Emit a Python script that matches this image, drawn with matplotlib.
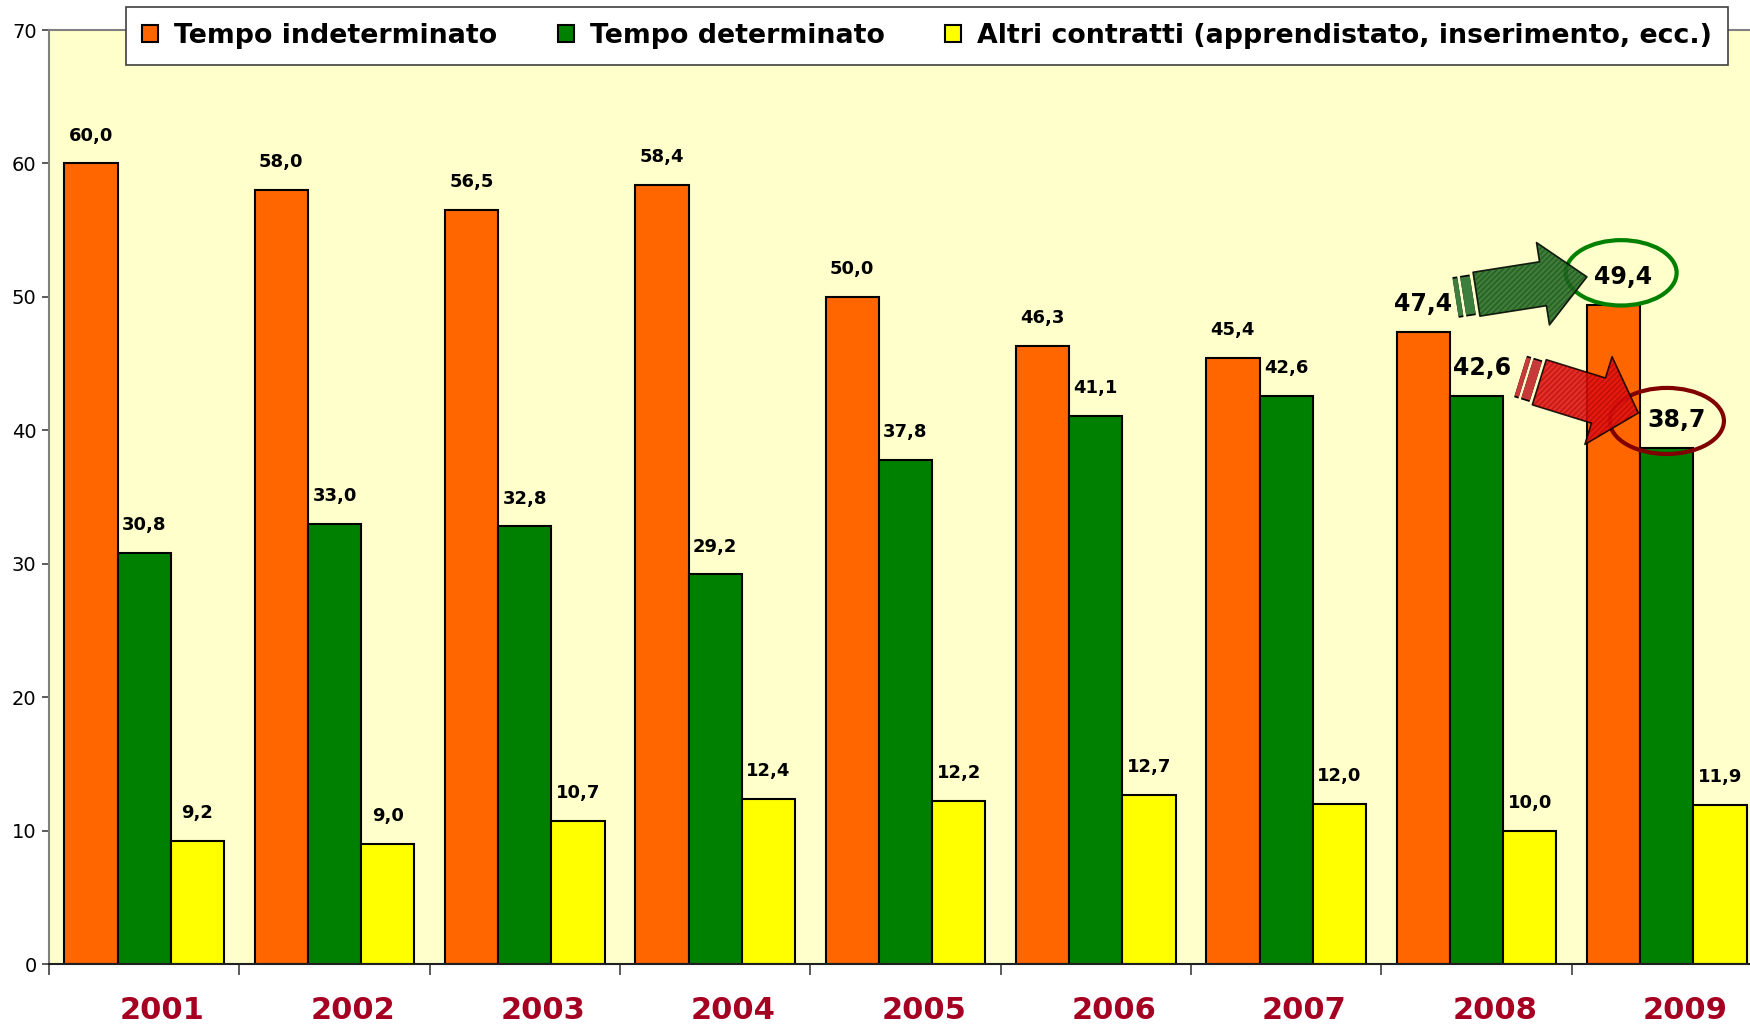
import matplotlib.pyplot as plt
import matplotlib.patheffects as pe
from matplotlib.patches import FancyArrowPatch, Ellipse
import numpy as np

anni = ['2001', '2002', '2003', '2004', '2005', '2006', '2007', '2008', '2009']
indeterminato = [60.0, 58.0, 56.5, 58.4, 50.0, 46.3, 45.4, 47.4, 49.4]
determinato = [30.8, 33.0, 32.8, 29.2, 37.8, 41.1, 42.6, 42.6, 38.7]
altri = [9.2, 9.0, 10.7, 12.4, 12.2, 12.7, 12.0, 10.0, 11.9]
serie = ['Tempo indeterminato', 'Tempo determinato',
         'Altri contratti (apprendistato, inserimento, ecc.)']
colori = ['#FF6600', '#008000', '#FFFF00']
# labels drawn bigger (series index, year index)
evidenziati = {(0, 7), (1, 7), (0, 8), (1, 8)}

plt.rcParams['font.family'] = 'DejaVu Sans'

fig = plt.figure(figsize=(17.5, 10.28), dpi=100)
ax = fig.add_axes([49/1750, 64/1028, 1713/1750, 934/1028])
ax.set_facecolor('#FFFFCC')

x = np.arange(len(anni))
w = 0.28
bars = []
for k, (vals, col) in enumerate(zip([indeterminato, determinato, altri], colori)):
    b = ax.bar(x + (k - 1) * w, vals, w, color=col, edgecolor='black',
               linewidth=1.5, label=serie[k], zorder=2)
    bars.append(b)
    for i, v in enumerate(vals):
        big = (k, i) in evidenziati
        dx = 7 if (big and i == 8) else (4 if big and k == 1 else 0)
        ax.annotate(f'{v:.1f}'.replace('.', ','), (x[i] + (k - 1) * w, v),
                    xytext=(dx, 20), textcoords='offset points',
                    ha='center', va='center', fontweight='bold',
                    fontsize=17 if big else 13, zorder=6)

ax.set_xlim(-0.5, 8.5)
ax.set_ylim(0, 70)
ax.set_yticks(range(0, 71, 10))
ax.set_xticks(np.arange(-0.5, 9, 1))
ax.set_xticklabels([])
# year labels sit a little right of the group centre, as in the original
ax.set_xticks(x + 0.095, minor=True)
ax.set_xticklabels(anni, minor=True, fontsize=22, fontweight='bold', color='#A50021')
ax.tick_params(axis='x', which='minor', length=0, pad=23)
ax.tick_params(axis='x', which='major', length=8, width=1.2, color='#404040')
ax.tick_params(axis='y', labelsize=14, length=5, width=1.2, color='#404040', pad=4)
ax.spines['right'].set_visible(False)
for s in ['left', 'top']:
    ax.spines[s].set_color('#808080')
    ax.spines[s].set_linewidth(1.5)
ax.spines['bottom'].set_color('#202020')
ax.spines['bottom'].set_linewidth(1.5)

# ellipses around 2009 values
ax.add_patch(Ellipse((7.76, 51.8), 0.583, 4.9, fill=False, edgecolor='#008000', lw=3, zorder=4))
ax.add_patch(Ellipse((8.0, 40.7), 0.60, 4.95, fill=False, edgecolor='#800000', lw=3, zorder=4))

# arrows
plt.rcParams['hatch.linewidth'] = 1.0
frecce = [
    ((7.00, 50.2), (7.58, 51.5), '#236B23', '#123E12', '#3D7D3D', 32, 60, 32),
    ((7.33, 43.6), (7.85, 41.3), '#E01010', '#A00000', '#C83A3A', 34, 66, 30),
]
for (p0, p1, fc, hc, sc, tw, hw, hl) in frecce:
    style = f'simple,tail_width={tw},head_width={hw},head_length={hl}'
    ax.add_patch(FancyArrowPatch(p0, p1, arrowstyle=style, mutation_scale=1,
                                 shrinkA=0, shrinkB=0, facecolor=fc, edgecolor='black',
                                 lw=1.2, alpha=0.88, zorder=5))
    ax.add_patch(FancyArrowPatch(p0, p1, arrowstyle=style, mutation_scale=1,
                                 shrinkA=0, shrinkB=0, fill=False, edgecolor=hc,
                                 lw=0, hatch='//////', alpha=0.5, zorder=5))
    # striped tail pieces
    d = np.array(p1) - np.array(p0)
    d = d / 0.58
    lw_s = tw * 0.85
    for a, b in [(-0.11, -0.085), (-0.07, -0.02)]:
        q0 = np.array(p0) + d * a
        q1 = np.array(p0) + d * b
        ax.plot([q0[0], q1[0]], [q0[1], q1[1]], color=sc, lw=lw_s, solid_capstyle='butt',
                zorder=5, path_effects=[pe.Stroke(linewidth=lw_s + 2.4, foreground='black'), pe.Normal()])

leg = fig.legend(handles=bars, loc='upper left', bbox_to_anchor=(126/1750, 1 - 7/1028),
                 ncol=3, frameon=True, fancybox=False, framealpha=1,
                 prop={'size': 19.3, 'weight': 'bold'},
                 edgecolor='#404040', handlelength=0.6, handleheight=0.6,
                 handletextpad=0.6, columnspacing=2.25, borderpad=0.6, borderaxespad=0)
leg.get_frame().set_linewidth(1.2)
for h in leg.legend_handles:
    h.set_linewidth(1.5)

fig.savefig('out.png', dpi=100)
